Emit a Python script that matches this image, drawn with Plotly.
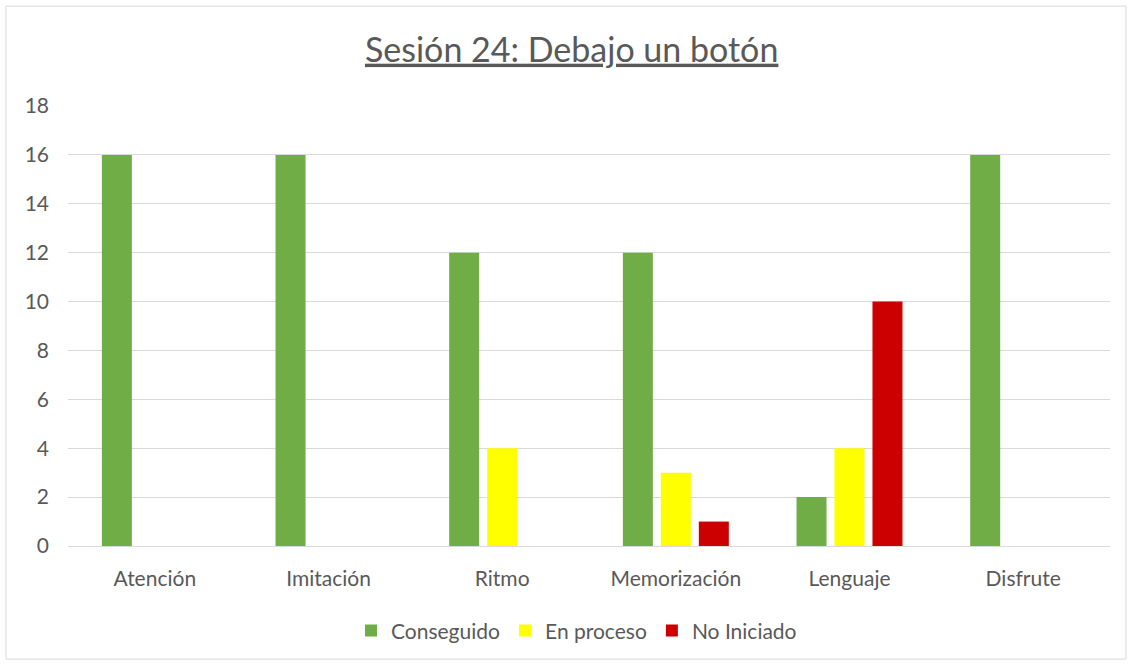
import plotly.graph_objects as go

categories = ["Atención", "Imitación", "Ritmo", "Memorización", "Lenguaje", "Disfrute"]
conseguido = [16, 16, 12, 12, 2, 16]
en_proceso = [0, 0, 4, 3, 4, 0]
no_iniciado = [0, 0, 0, 1, 10, 0]
y_ticks = [0, 2, 4, 6, 8, 10, 12, 14, 16, 18]

FONT = "Lato, 'Open Sans', sans-serif"
fig = go.Figure()
fig.add_trace(go.Bar(name="Conseguido", x=categories, y=conseguido, marker_color="#70AD47", marker_line_width=0))
fig.add_trace(go.Bar(name="En proceso", x=categories, y=en_proceso, marker_color="#FFFF00", marker_line_width=0))
fig.add_trace(go.Bar(name="No Iniciado", x=categories, y=no_iniciado, marker_color="#CC0000", marker_line_width=0))

fig.update_layout(
    width=1132, height=664,
    margin=dict(l=68, r=22, t=106, b=118),
    paper_bgcolor="white", plot_bgcolor="white",
    barmode="group", bargap=0.344, bargroupgap=0.21,
    title=dict(text="<u>Sesión 24: Debajo un botón</u>", x=0.505, xanchor="center",
               y=0.925, yanchor="middle", font=dict(family=FONT, size=34, color="#595959")),
    font=dict(family=FONT, size=21, color="#595959"),
    legend=dict(orientation="h", x=0.488, xanchor="center", y=-0.193, yanchor="middle",
                font=dict(size=21, color="#595959"), itemwidth=30, traceorder="normal"),
    showlegend=True,
    shapes=[dict(type="rect", xref="paper", yref="paper", x0=-0.0595, x1=1.0154, y0=-0.257, y1=1.227,
                 line=dict(color="#D9D9D9", width=1), fillcolor="rgba(0,0,0,0)", layer="below")],
)
fig.update_yaxes(range=[0, 18], tickvals=y_ticks, showgrid=True, gridcolor="#D9D9D9", gridwidth=1,
                 zeroline=False, ticks="", ticklabelstandoff=18, tickfont=dict(size=21, color="#595959"))
fig.update_xaxes(showline=True, linecolor="#D9D9D9", linewidth=1, ticks="", ticklabelstandoff=14,
                 tickfont=dict(size=21, color="#595959"))

fig.write_html("out.html", config={"displayModeBar": False},
               post_script="document.body.style.margin='0';")
